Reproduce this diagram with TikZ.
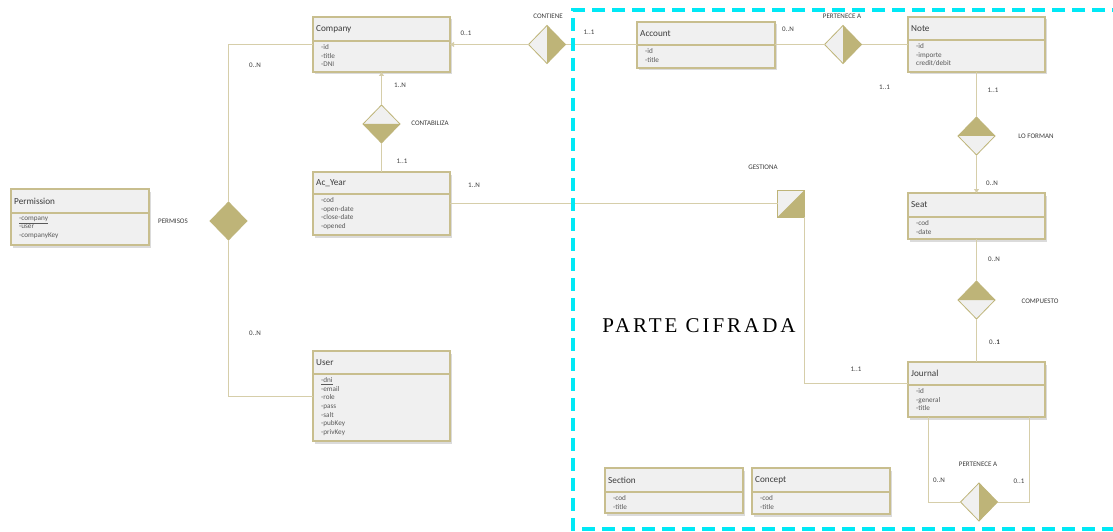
\documentclass[tikz,border=0pt]{standalone}
\usepackage{fontspec}
\setmainfont{Carlito}
\newfontfamily\partefont[LetterSpace=14]{Liberation Serif}
\usetikzlibrary{shapes.geometric,arrows.meta}
\definecolor{boxfill}{RGB}{240,240,240}
\definecolor{boxdraw}{RGB}{200,190,142}
\definecolor{lnc}{RGB}{214,206,170}
\definecolor{olivec}{RGB}{190,180,120}
\definecolor{shadowc}{RGB}{195,195,195}
\definecolor{txtc}{RGB}{60,60,60}
\definecolor{cyanc}{RGB}{0,232,245}
\tikzset{
 boxst/.style={draw=boxdraw, fill=boxfill, line width=1.1pt, inner sep=0pt, outer sep=0pt},
 titlest/.style={font=\fontsize{9.2}{10}\selectfont, text=txtc, inner sep=0pt},
 attrst/.style={font=\fontsize{7.2}{8.6}\selectfont, text=txtc!85, align=left, inner sep=0pt},
 lbl/.style={font=\fontsize{7}{8}\selectfont, text=txtc, inner sep=0pt},
 conn/.style={draw=lnc, line width=1pt},
 arr/.style={-{Triangle[width=5pt,length=4pt]}},
 rel/.style={diamond, draw=olivec, fill=boxfill, line width=0.8pt, inner sep=0pt, outer sep=0pt, minimum width=37pt, minimum height=38pt},
 relR/.style={rel, path picture={\fill[olivec] (path picture bounding box.north) -- (path picture bounding box.east) -- (path picture bounding box.south) -- cycle;}},
 relB/.style={rel, path picture={\fill[olivec] (path picture bounding box.west) -- (path picture bounding box.south) -- (path picture bounding box.east) -- cycle;}},
 relT/.style={rel, path picture={\fill[olivec] (path picture bounding box.west) -- (path picture bounding box.north) -- (path picture bounding box.east) -- cycle;}},
 relF/.style={rel, fill=olivec},
 gestst/.style={rectangle, draw=olivec, fill=boxfill, line width=0.8pt, inner sep=0pt, outer sep=0pt, minimum size=27pt, path picture={\fill[olivec] (path picture bounding box.north east) -- (path picture bounding box.south east) -- (path picture bounding box.south west) -- cycle;}},
}
% name, x1, y1, x2, y2, divider y, title, attributes
\newcommand\ermbox[8]{%
 \fill[shadowc, opacity=0.6] (#2+1.5,#3+2.5) rectangle (#4+2,#5+2.5);
 \pgfmathsetmacro\bw{#4-#2}\pgfmathsetmacro\bh{#5-#3}
 \node[boxst, minimum width=\bw pt, minimum height=\bh pt, anchor=north west] (#1) at (#2,#3) {};
 \draw[draw=boxdraw, line width=1.1pt] (#2,#6) -- (#4,#6);
 \node[titlest, anchor=west] (#1-t) at (#2+3,{(#3+#6)/2}) {#7};
 \node[attrst, anchor=north west] (#1-a) at (#2+8,#6+3.5) {#8};
}
\begin{document}
\begin{tikzpicture}[x=1pt,y=-1pt]
\useasboundingbox (0,0) rectangle (1113,532);
\fill[white] (0,0) rectangle (1113,532);

% boxes
\ermbox{Company}{313}{17}{450}{72}{41}{Company}{-id\\-title\\-DNI}
\ermbox{Permission}{11}{189}{149}{245}{213}{Permission}{\underline{-company}\\-user\\-companyKey}
\ermbox{AcYear}{313}{172}{450}{235}{194}{Ac\_Year}{-cod\\-open-date\\-close-date\\-opened}
\ermbox{User}{313}{351}{450}{441}{374}{User}{\underline{-dni}\\-email\\-role\\-pass\\-salt\\-pubKey\\-privKey}
\ermbox{Account}{637}{22}{775}{68}{45}{Account}{-id\\-title}
\ermbox{Note}{908}{17}{1045}{72}{40}{Note}{-id\\-importe\\credit/debit}
\ermbox{Seat}{908}{193}{1045}{239}{217}{Seat}{-cod\\-date}
\ermbox{Journal}{908}{362}{1045}{417}{385}{Journal}{-id\\-general\\-title}
\ermbox{Section}{605}{468}{743}{513}{492}{Section}{-cod\\-title}
\ermbox{Concept}{752}{468}{890}{514}{492}{Concept}{-cod\\-title}

% relationships
\node[relF] (permisos) at (228.5,221) {};
\node[relB] (contab) at (381.5,124) {};
\node[relR] (contiene) at (547,44.5) {};
\node[relR] (pert1) at (843,44.5) {};
\node[relT] (loforman) at (976.5,136) {};
\node[relT] (compuesto) at (976.5,300) {};
\node[relR] (pert2) at (979,502) {};
\node[gestst] (gest) at (791,203.5) {};

% connectors
\draw[conn] (Company.west) -| (permisos.north);
\draw[conn] (permisos.south) |- (User.west);
\draw[conn,arr] (contab.north) -- (Company.south);
\draw[conn] (contab.south) -- (AcYear.north);
\draw[conn,arr] (contiene.west) -- (contiene.west -| Company.east);
\draw[conn] (contiene.east) -- (contiene.east -| Account.west);
\draw[conn] (pert1.west) -- (pert1.west -| Account.east);
\draw[conn] (pert1.east) -- (pert1.east -| Note.west);
\draw[conn] (AcYear.east) -- (gest.west);
\draw[conn] (gest.south east) |- ([yshift=6.5pt]Journal.west);
\draw[conn] (Note.south) -- (loforman.north);
\draw[conn,arr] (loforman.south) -- (Seat.north);
\draw[conn] (Seat.south) -- (compuesto.north);
\draw[conn] (compuesto.south) -- (Journal.north);
\draw[conn] ([xshift=20pt]Journal.south west) |- (pert2.west);
\draw[conn] (pert2.east) -| ([xshift=-16pt]Journal.south east);

% labels
\node[lbl] (l1) at (173,221) {PERMISOS};
\node[lbl] (l2) at (255,65) {0..N};
\node[lbl] (l3) at (255,333) {0..N};
\node[lbl] (l4) at (400,85) {1..N};
\node[lbl] (l5) at (430,123) {CONTABILIZA};
\node[lbl] (l6) at (402,161) {1..1};
\node[lbl] (l7) at (548,16) {CONTIENE};
\node[lbl] (l8) at (466,33) {0..1};
\node[lbl] (l9) at (589,32) {1..1};
\node[lbl] (l10) at (788,29) {0..N};
\node[lbl] (l11) at (842,16) {PERTENECE A};
\node[lbl] (l12) at (884.5,87) {1..1};
\node[lbl] (l13) at (993,90) {1..1};
\node[lbl] (l14) at (1036,136) {LO FORMAN};
\node[lbl] (l15) at (992,183) {0..N};
\node[lbl] (l16) at (763,167) {GESTIONA};
\node[lbl] (l17) at (474,185) {1..N};
\node[lbl] (l18) at (994,259) {0..N};
\node[lbl] (l19) at (1040,301) {COMPUESTO};
\node[lbl] (l20) at (994.5,342) {0..\textbf{1}};
\node[lbl] (l21) at (856,369) {1..1};
\node[lbl] (l22) at (978,464) {PERTENECE A};
\node[lbl] (l23) at (939,480) {0..N};
\node[lbl] (l24) at (1019,481) {0..1};
\node[inner sep=0pt, text=black, font=\fontsize{21}{22}\selectfont\partefont] (parte) at (699,326) {PARTE CIFRADA};

% encrypted region
\draw[cyanc, line width=3.5pt, dash pattern=on 13pt off 7pt] (1125,10) -- (573,10) -- (573,529) -- (1125,529);
\end{tikzpicture}
\end{document}
